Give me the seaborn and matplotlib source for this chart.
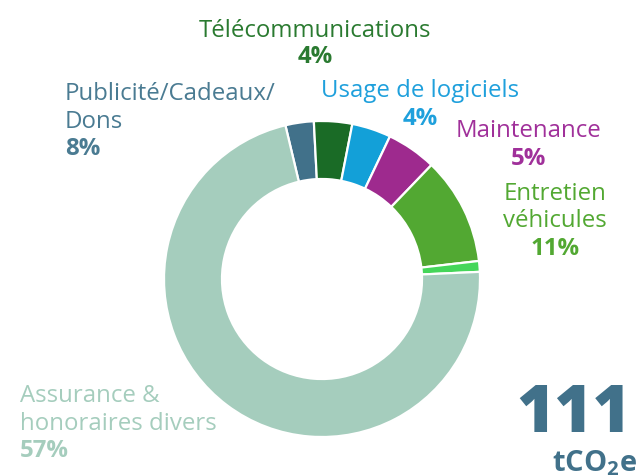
import matplotlib
matplotlib.use("Agg")
import matplotlib.pyplot as plt
import seaborn as sns

sns.set_theme(style="white")
plt.rcParams['font.family'] = ['Open Sans', 'DejaVu Sans']
plt.rcParams['mathtext.fontset'] = 'custom'
plt.rcParams['mathtext.rm'] = 'Open Sans:bold'
plt.rcParams['mathtext.it'] = 'Open Sans:bold'
plt.rcParams['mathtext.bf'] = 'Open Sans:bold'
plt.rcParams['mathtext.default'] = 'rm'

# ---- data ----
categories = ["Publicité/Cadeaux/Dons", "Télécommunications", "Usage de logiciels",
              "Maintenance", "Entretien véhicules", "Autres", "Assurance & honoraires divers"]
values = [2.9, 3.9, 4.0, 5.1, 11.0, 1.1, 72.0]
pct_labels = ["8%", "4%", "4%", "5%", "11%", "", "57%"]
colors = ["#41718a", "#1a6b26", "#13a0d8", "#9e2a8e", "#52a832", "#45d65a", "#a5cdbd"]
text_colors = ["#4a7b92", "#2a7a30", "#1fa0dc", "#a0309a", "#52a832", "#45d65a", "#a5cdbd"]
total_value = "111"
unit = r"tCO$_2$e"

W, H = 642, 477
fig = plt.figure(figsize=(W / 100, H / 100), dpi=100)
cx, cy, r = 322, 280, 158
ax = fig.add_axes([(cx - r) / W, (H - cy - r) / H, 2 * r / W, 2 * r / H])
ax.pie(values, colors=colors, startangle=90 + 13.4, counterclock=False,
       radius=1, wedgeprops=dict(width=0.367, edgecolor="white", linewidth=1.6))
ax.set_xlim(-1, 1)
ax.set_ylim(-1, 1)
ax.set_aspect("equal")
ax.axis("off")

FS = 17.3


def put(x, y, s, color, ha="center", bold=False, size=FS):
    fig.text(x / W, 1 - y / H, s, color=color, ha=ha, va="baseline",
             fontsize=size, fontweight="bold" if bold else "normal")


# Publicité
put(65, 100, "Publicité/Cadeaux/", text_colors[0], ha="left")
put(65, 128, "Dons", text_colors[0], ha="left")
put(65, 155, pct_labels[0], text_colors[0], ha="left", bold=True)
# Télécommunications
put(315, 37, "Télécommunications", text_colors[1])
put(315, 63, pct_labels[1], text_colors[1], bold=True)
# Usage de logiciels
put(420, 97, "Usage de logiciels", text_colors[2])
put(420, 125, pct_labels[2], text_colors[2], bold=True)
# Maintenance
put(529, 137, "Maintenance", text_colors[3])
put(529, 165, pct_labels[3], text_colors[3], bold=True)
# Entretien véhicules
put(555, 200, "Entretien", text_colors[4])
put(555, 227, "véhicules", text_colors[4])
put(555, 255, pct_labels[4], text_colors[4], bold=True)
# Assurance
put(20, 402, "Assurance &", text_colors[6], ha="left")
put(20, 430, "honoraires divers", text_colors[6], ha="left")
put(20, 457, pct_labels[6], text_colors[6], ha="left", bold=True)

# Total
fig.text(631 / W, 1 - 432 / H, total_value, color="#41718a", ha="right", va="baseline",
         fontsize=47, fontweight="heavy")
fig.text(637 / W, 1 - 471 / H, unit, color="#41718a", ha="right", va="baseline",
         fontsize=21, fontweight="bold")

fig.savefig("out.png", dpi=100)
